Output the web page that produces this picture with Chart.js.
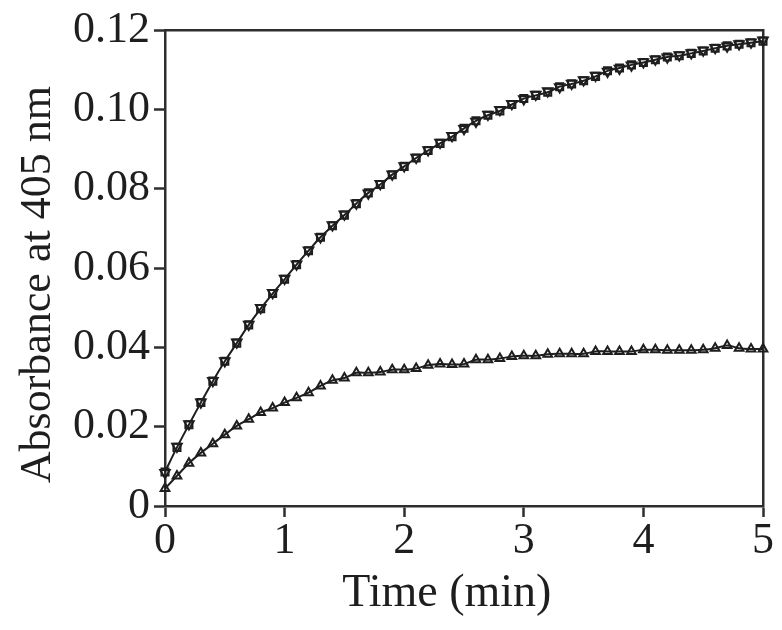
<!DOCTYPE html>
<html>
<head>
<meta charset="utf-8">
<script src="https://cdn.jsdelivr.net/npm/chart.js@4"></script>
<style>
  html, body { margin: 0; padding: 0; background: #fff; }
</style>
</head>
<body>
<canvas id="kinetics" width="782" height="630"></canvas>
<script>
// time points (min), one every 0.1 min
const timeMin = [
  0.0, 0.1, 0.2, 0.3, 0.4, 0.5, 0.6, 0.7, 0.8, 0.9,
  1.0, 1.1, 1.2, 1.3, 1.4, 1.5, 1.6, 1.7, 1.8, 1.9,
  2.0, 2.1, 2.2, 2.3, 2.4, 2.5, 2.6, 2.7, 2.8, 2.9,
  3.0, 3.1, 3.2, 3.3, 3.4, 3.5, 3.6, 3.7, 3.8, 3.9,
  4.0, 4.1, 4.2, 4.3, 4.4, 4.5, 4.6, 4.7, 4.8, 4.9,
  5.0
];

// open squares (upper curve)
const absSquare = [
  0.0086, 0.0148, 0.0205, 0.0261, 0.0315, 0.0365, 0.0411, 0.0457, 0.0498, 0.0536,
  0.0572, 0.0609, 0.0644, 0.0678, 0.0707, 0.0734, 0.0763, 0.0790, 0.0811, 0.0836,
  0.0857, 0.0878, 0.0897, 0.0915, 0.0932, 0.0953, 0.0972, 0.0986, 0.0997, 0.1013,
  0.1028, 0.1036, 0.1044, 0.1058, 0.1065, 0.1073, 0.1084, 0.1098, 0.1105, 0.1113,
  0.1119, 0.1126, 0.1133, 0.1136, 0.1142, 0.1148, 0.1155, 0.1161, 0.1165, 0.1169,
  0.1173
];

// open inverted triangles (upper curve, overlapping the squares)
const absInvTri = [
  0.0084, 0.0150, 0.0207, 0.0262, 0.0316, 0.0366, 0.0413, 0.0458, 0.0500, 0.0538,
  0.0574, 0.0610, 0.0645, 0.0679, 0.0709, 0.0736, 0.0764, 0.0789, 0.0813, 0.0837,
  0.0858, 0.0879, 0.0898, 0.0917, 0.0934, 0.0952, 0.0970, 0.0988, 0.1000, 0.1015,
  0.1027, 0.1038, 0.1047, 0.1057, 0.1066, 0.1075, 0.1086, 0.1096, 0.1104, 0.1112,
  0.1120, 0.1127, 0.1132, 0.1138, 0.1143, 0.1150, 0.1156, 0.1160, 0.1166, 0.1170,
  0.1175
];

// open triangles (lower curve)
const absTri = [
  0.0044, 0.0076, 0.0108, 0.0134, 0.0157, 0.0180, 0.0202, 0.0219, 0.0236, 0.0247,
  0.0261, 0.0273, 0.0286, 0.0303, 0.0317, 0.0323, 0.0336, 0.0336, 0.0338, 0.0344,
  0.0344, 0.0347, 0.0355, 0.0358, 0.0357, 0.0358, 0.0369, 0.0369, 0.0372, 0.0377,
  0.0379, 0.0379, 0.0383, 0.0384, 0.0384, 0.0384, 0.0390, 0.0390, 0.0390, 0.0390,
  0.0394, 0.0394, 0.0393, 0.0393, 0.0393, 0.0394, 0.0398, 0.0405, 0.0398, 0.0396,
  0.0396
];

const xTickLabels = ["0", "1", "2", "3", "4", "5"];
const yTickLabels = ["0", "0.02", "0.04", "0.06", "0.08", "0.10", "0.12"];

const ink = "#1e1e1e";
const axisColor = "#2e2e2e";
const serif = "'Liberation Serif', 'Times New Roman', serif";
const nb = "\u00a0"; // trailing no-break spaces nudge the titles off-centre like the original

const toPoints = (vals) => vals.map((v, i) => ({ x: timeMin[i], y: v }));

const markerBase = {
  borderColor: ink,
  backgroundColor: "rgba(255,255,255,0)",
  pointBorderColor: ink,
  pointBackgroundColor: "rgba(255,255,255,0)",
  pointBorderWidth: 2,
  borderWidth: 2,
  tension: 0.35,
  clip: false,
};

new Chart(document.getElementById("kinetics"), {
  type: "scatter",
  data: {
    datasets: [
      {
        ...markerBase,
        label: "square",
        data: toPoints(absSquare),
        showLine: true,
        pointStyle: "rect",
        pointRadius: 5,
      },
      {
        ...markerBase,
        label: "inverted triangle",
        data: toPoints(absInvTri),
        showLine: false,
        pointStyle: "triangle",
        rotation: 180,
        pointRadius: 5.5,
      },
      {
        ...markerBase,
        label: "triangle",
        data: toPoints(absTri),
        showLine: true,
        pointStyle: "triangle",
        pointRadius: 5,
      },
    ],
  },
  options: {
    responsive: false,
    animation: false,
    layout: { padding: 0 },
    plugins: { legend: { display: false }, tooltip: { enabled: false } },
    scales: {
      x: {
        type: "linear",
        position: "bottom",
        min: 0,
        max: 5,
        ticks: {
          stepSize: 1,
          padding: -2,
          color: ink,
          font: { family: serif, size: 44 },
          callback: (v) => xTickLabels[Math.round(v)],
        },
        grid: {
          drawOnChartArea: false,
          drawTicks: true,
          tickLength: 11,
          tickWidth: 2.5,
          tickColor: axisColor,
        },
        border: { display: true, width: 2.5, color: axisColor },
        title: {
          display: true,
          text: "Time (min)" + nb + nb + nb,
          color: ink,
          font: { family: serif, size: 46 },
          padding: { top: 8, bottom: 8 },
        },
        afterFit: (s) => { s.height = 124; },
      },
      y: {
        type: "linear",
        position: "left",
        min: 0,
        max: 0.12,
        ticks: {
          stepSize: 0.02,
          padding: 4,
          color: ink,
          font: { family: serif, size: 44 },
          callback: (v) => yTickLabels[Math.round(v / 0.02)],
        },
        grid: {
          drawOnChartArea: false,
          drawTicks: true,
          tickLength: 11,
          tickWidth: 2.5,
          tickColor: axisColor,
        },
        border: { display: true, width: 2.5, color: axisColor },
        title: {
          display: true,
          text: "Absorbance at 405 nm" + nb + nb + nb,
          color: ink,
          font: { family: serif, size: 44 },
          padding: { top: 12, bottom: 12 },
        },
        afterFit: (s) => { s.width = 165; },
      },
      xTop: {
        type: "linear",
        position: "top",
        min: 0,
        max: 5,
        ticks: { display: false },
        grid: { display: false },
        border: { display: true, width: 2.5, color: axisColor },
        afterFit: (s) => { s.height = 27; },
      },
      yRight: {
        type: "linear",
        position: "right",
        min: 0,
        max: 0.12,
        ticks: { display: false },
        grid: { display: false },
        border: { display: true, width: 2.5, color: axisColor },
        afterFit: (s) => { s.width = 19; },
      },
    },
  },
});
</script>
</body>
</html>
